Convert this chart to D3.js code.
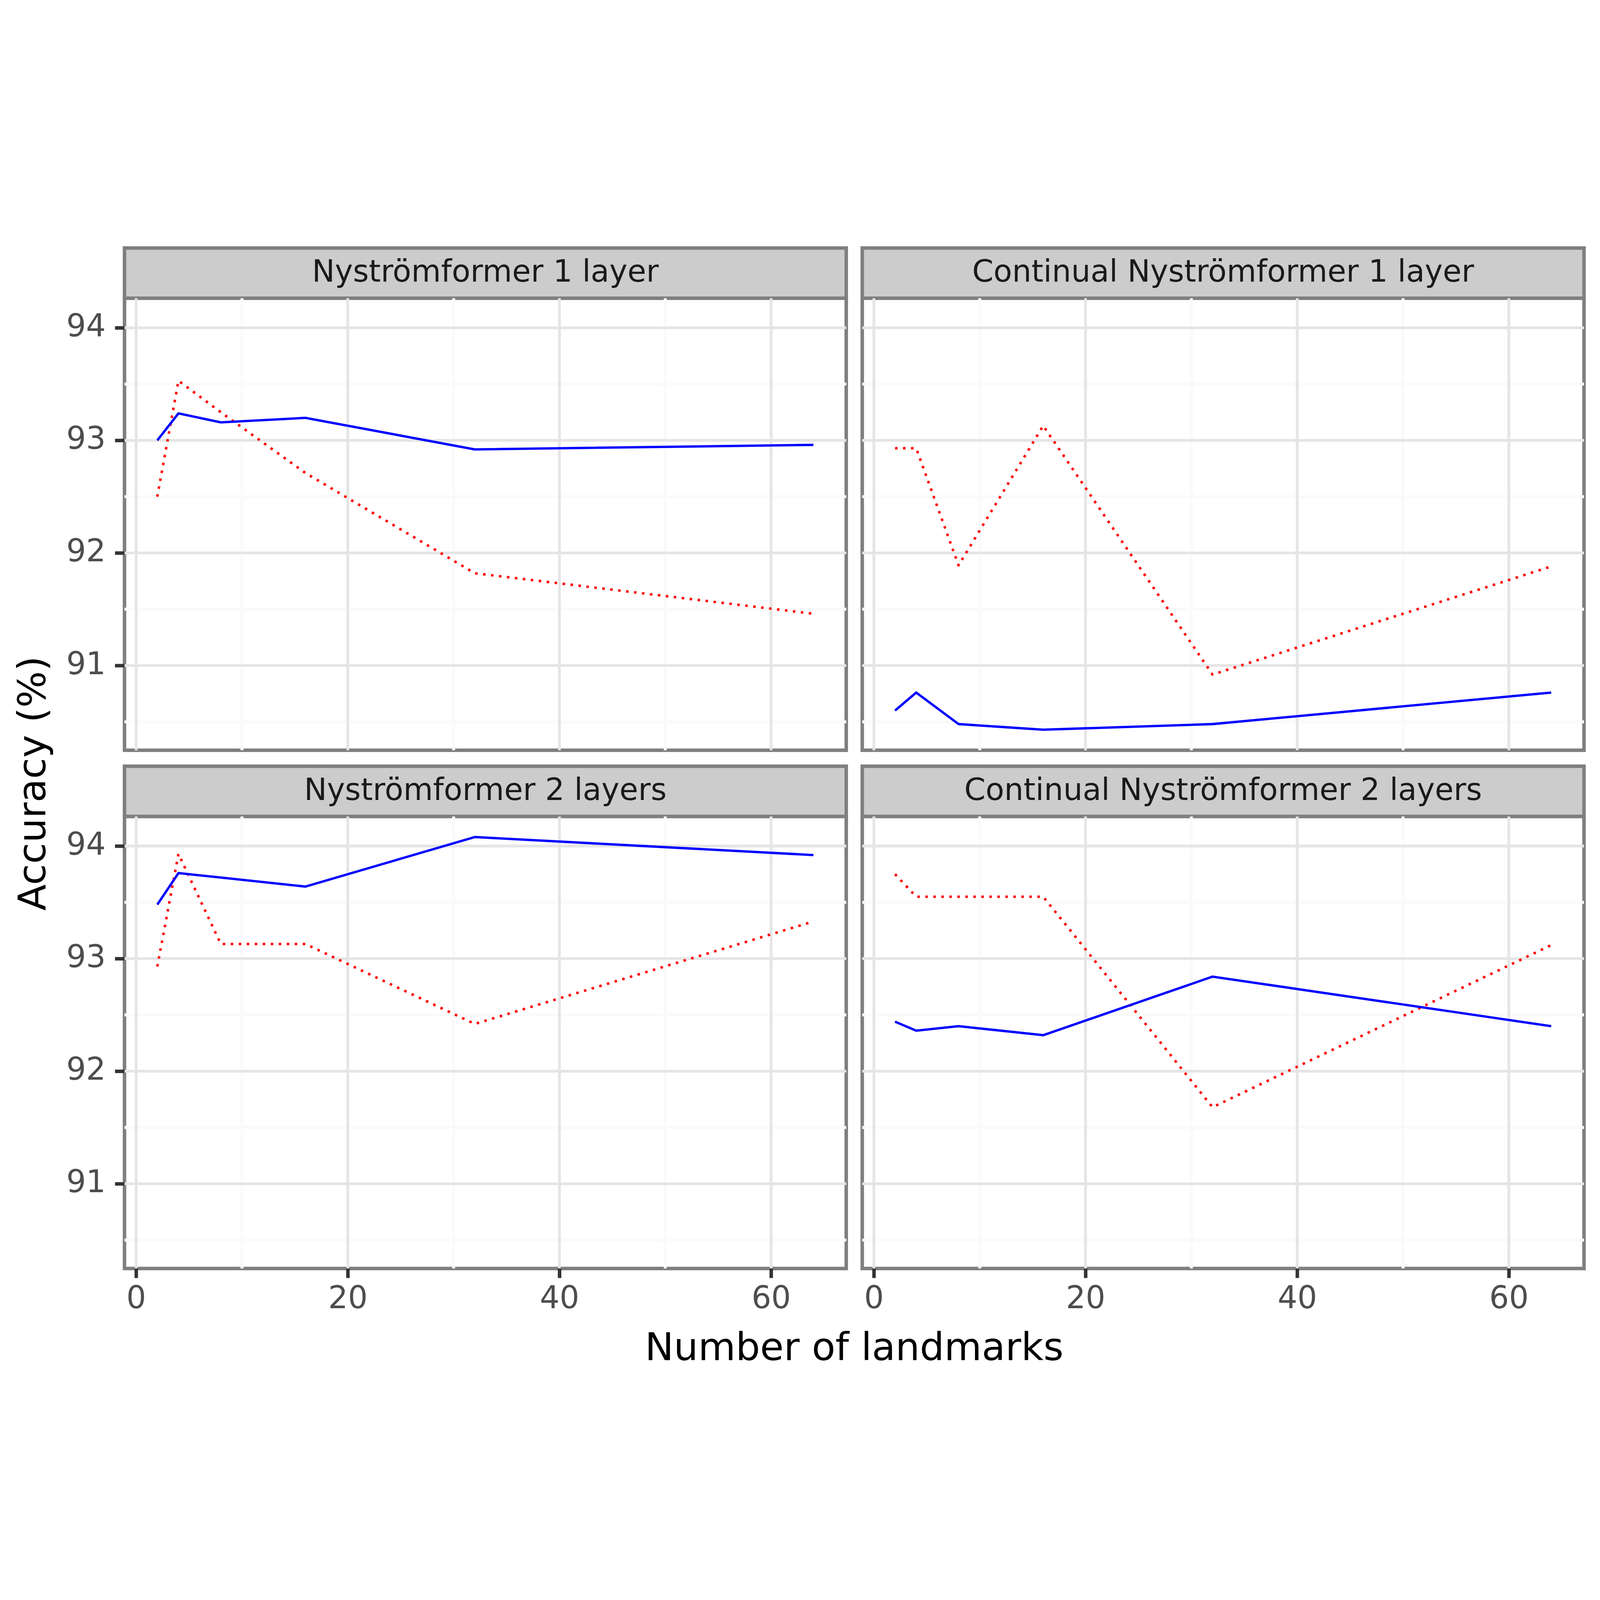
<!DOCTYPE html>
<html>
<head>
<meta charset="utf-8">
<script src="https://cdn.jsdelivr.net/npm/d3@7"></script>
<style>
  html, body { margin: 0; padding: 0; width: 100%; height: 100%; background: #fff; overflow: hidden; }
  #chart { display: block; width: 100vw; height: 100vh; }
  text { font-family: "DejaVu Sans", sans-serif; }
</style>
</head>
<body>
<svg id="chart"></svg>
<script>
var landmarks = [2, 4, 8, 16, 32, 64];

var panelTitles = [
  "Nyströmformer 1 layer",
  "Continual Nyströmformer 1 layer",
  "Nyströmformer 2 layers",
  "Continual Nyströmformer 2 layers"
];

// solid blue lines
var blueNys1 = [93.00, 93.24, 93.16, 93.20, 92.92, 92.96];
var blueCont1 = [90.60, 90.76, 90.48, 90.43, 90.48, 90.76];
var blueNys2 = [93.48, 93.76, 93.72, 93.64, 94.08, 93.92];
var blueCont2 = [92.44, 92.36, 92.40, 92.32, 92.84, 92.40];

// dotted red lines
var redNys1 = [92.50, 93.53, 93.25, 92.71, 91.82, 91.46];
var redCont1 = [92.93, 92.93, 91.89, 93.13, 90.92, 91.88];
var redNys2 = [92.93, 93.93, 93.13, 93.13, 92.42, 93.33];
var redCont2 = [93.75, 93.55, 93.55, 93.55, 91.68, 93.12];

var xTicks = [0, 20, 40, 60];
var xMinor = [10, 30, 50];
var yTicks = [91, 92, 93, 94];
var yMinor = [90.5, 91.5, 92.5, 93.5];

var blues = [blueNys1, blueCont1, blueNys2, blueCont2];
var reds = [redNys1, redCont1, redNys2, redCont2];

var w = 6400;
var h = 4800;
var panelW = 2887;
var panelH = 1808;
var stripH = 201;
var colX = [498, 3449];
var rowY = [393, 2466]; // top of plotting area (below strip)

// the window may be smaller than 6400x4800, so scale the drawing to fit it
var svg = d3.select("#chart")
  .attr("viewBox", "0 0 " + w + " " + h)
  .attr("preserveAspectRatio", "xMidYMid meet");

svg.append("rect").attr("width", w).attr("height", h).attr("fill", "#fff");

// ggplot style 5% expansion
var xr = d3.extent(landmarks);
var xPad = (xr[1] - xr[0]) * 0.05;
var allY = d3.merge(blues.concat(reds));
var yr = d3.extent(allY);
var yPad = (yr[1] - yr[0]) * 0.05;

var xScale = d3.scaleLinear()
  .domain([xr[0] - xPad, xr[1] + xPad])
  .range([0, panelW]);
var yScale = d3.scaleLinear()
  .domain([yr[0] - yPad, yr[1] + yPad])
  .range([panelH, 0]);

var line = d3.line()
  .x(function(d){ return xScale(d[0]); })
  .y(function(d){ return yScale(d[1]); });

panelTitles.forEach(function(title, i){
  var col = i % 2, row = Math.floor(i / 2);
  var g = svg.append("g")
    .attr("transform", "translate(" + colX[col] + "," + rowY[row] + ")");

  // strip
  g.append("rect")
    .attr("x", 0).attr("y", -stripH)
    .attr("width", panelW).attr("height", stripH)
    .attr("fill", "#cccccc")
    .attr("stroke", "#7f7f7f")
    .attr("stroke-width", 14);
  g.append("text")
    .attr("x", panelW / 2)
    .attr("y", -stripH / 2 + 34)
    .attr("text-anchor", "middle")
    .attr("font-size", 122)
    .attr("fill", "#1a1a1a")
    .text(title);

  // panel
  g.append("rect")
    .attr("width", panelW).attr("height", panelH)
    .attr("fill", "#fff")
    .attr("stroke", "#7f7f7f")
    .attr("stroke-width", 14);

  // grid
  g.selectAll(".ymin").data(yMinor).enter().append("line")
    .attr("x1", 0).attr("x2", panelW)
    .attr("y1", yScale).attr("y2", yScale)
    .attr("stroke", "#fafafa").attr("stroke-width", 12);
  g.selectAll(".xmin").data(xMinor).enter().append("line")
    .attr("y1", 0).attr("y2", panelH)
    .attr("x1", xScale).attr("x2", xScale)
    .attr("stroke", "#fafafa").attr("stroke-width", 12);
  g.selectAll(".ymaj").data(yTicks).enter().append("line")
    .attr("x1", 0).attr("x2", panelW)
    .attr("y1", yScale).attr("y2", yScale)
    .attr("stroke", "#e5e5e5").attr("stroke-width", 11);
  g.selectAll(".xmaj").data(xTicks).enter().append("line")
    .attr("y1", 0).attr("y2", panelH)
    .attr("x1", xScale).attr("x2", xScale)
    .attr("stroke", "#e5e5e5").attr("stroke-width", 11);

  // data
  var bluePts = landmarks.map(function(x, k){ return [x, blues[i][k]]; });
  var redPts = landmarks.map(function(x, k){ return [x, reds[i][k]]; });

  g.append("path")
    .attr("d", line(redPts))
    .attr("fill", "none")
    .attr("stroke", "#ff0000")
    .attr("stroke-width", 10)
    .attr("stroke-dasharray", "10,22")
    .attr("stroke-linejoin", "round");
  g.append("path")
    .attr("d", line(bluePts))
    .attr("fill", "none")
    .attr("stroke", "#0000ff")
    .attr("stroke-width", 9.5)
    .attr("stroke-linejoin", "round");

  // axes
  if (col === 0) {
    var ya = g.append("g")
      .call(d3.axisLeft(yScale).tickValues(yTicks).tickSize(38).tickPadding(37).tickFormat(d3.format("d")));
    ya.select(".domain").remove();
    ya.selectAll("line").attr("stroke", "#333333").attr("stroke-width", 14);
    ya.selectAll("text")
      .attr("font-size", 124)
      .attr("font-family", "DejaVu Sans")
      .attr("fill", "#4d4d4d")
      .attr("dy", "0.27em");
  }
  if (row === 1) {
    var xa = g.append("g")
      .attr("transform", "translate(0," + panelH + ")")
      .call(d3.axisBottom(xScale).tickValues(xTicks).tickSize(38).tickPadding(33));
    xa.select(".domain").remove();
    xa.selectAll("line").attr("stroke", "#333333").attr("stroke-width", 14);
    xa.selectAll("text")
      .attr("font-size", 124)
      .attr("font-family", "DejaVu Sans")
      .attr("fill", "#4d4d4d");
  }
});

// axis titles
svg.append("text")
  .attr("x", (colX[0] + colX[1] + panelW) / 2)
  .attr("y", 4640)
  .attr("text-anchor", "middle")
  .attr("font-size", 154)
  .attr("fill", "#000")
  .text("Number of landmarks");

svg.append("text")
  .attr("transform", "translate(181," + ((rowY[0] + rowY[1] + panelH) / 2) + ") rotate(-90)")
  .attr("text-anchor", "middle")
  .attr("font-size", 154)
  .attr("fill", "#000")
  .text("Accuracy (%)");
</script>
</body>
</html>
